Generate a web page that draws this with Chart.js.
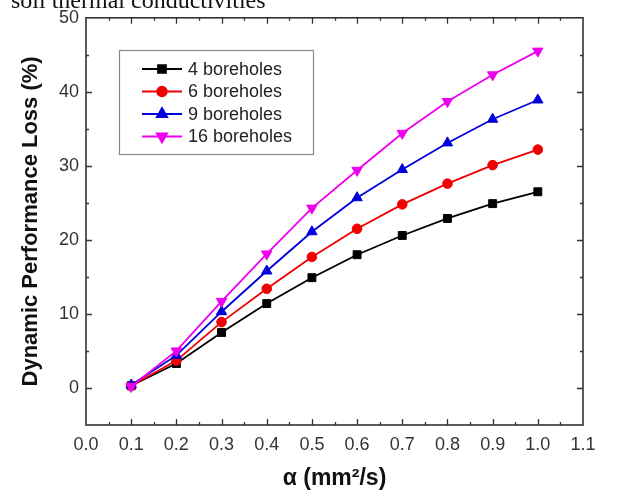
<!DOCTYPE html>
<html>
<head>
<meta charset="utf-8">
<script src="https://cdn.jsdelivr.net/npm/chart.js@4/dist/chart.umd.min.js"></script>
<style>
  html, body { margin: 0; padding: 0; background: #fff; overflow: hidden; }
  #wrap { position: relative; width: 618px; height: 492px; }
  #cap { position: absolute; left: 11px; top: -12px; font: 24px/24px "Liberation Serif", "DejaVu Serif", serif; color: #111; white-space: nowrap; }
  canvas { position: absolute; left: 0; top: 0; }
</style>
</head>
<body>
<div id="wrap">
  <canvas id="c" width="618" height="492"></canvas>
  <div id="cap">soil thermal conductivities</div>
</div>
<script>
// ---- data ----
const alpha = [0.1, 0.2, 0.3, 0.4, 0.5, 0.6, 0.7, 0.8, 0.9, 1.0];
const loss4  = [0.3, 3.3, 7.5, 11.4, 14.9, 18.0, 20.6, 22.9, 24.9, 26.5];
const loss6  = [0.3, 3.7, 8.9, 13.4, 17.7, 21.5, 24.8, 27.6, 30.1, 32.2];
const loss9  = [0.4, 4.4, 10.3, 15.8, 21.1, 25.7, 29.5, 33.1, 36.3, 38.9];
const loss16 = [0.2, 5.0, 11.7, 18.1, 24.3, 29.4, 34.4, 38.7, 42.3, 45.5];
const seriesLabels = ['4 boreholes', '6 boreholes', '9 boreholes', '16 boreholes'];
const yTickValues = [0, 10, 20, 30, 40, 50];
const xTitle = 'α (mm²/s)';
const yTitle = 'Dynamic Performance Loss (%)';

const pts = (ys) => alpha.map((x, i) => ({ x: x, y: ys[i] }));

function ds(label, ys, color, style, radius, rotation, order) {
  return {
    label: label, data: pts(ys), borderColor: color, backgroundColor: color,
    borderWidth: 1.8, pointStyle: style, pointRadius: radius, pointHoverRadius: radius,
    pointRotation: rotation, pointBorderWidth: 1, pointBorderColor: color,
    pointBackgroundColor: color, tension: 0, fill: false, order: order
  };
}

// frame + inside ticks on all four sides
const framePlugin = {
  id: 'frame',
  afterDatasetsDraw(chart) {
    const { ctx, chartArea: a, scales } = chart;
    const xs = scales.x, ys = scales.y;
    ctx.save();
    ctx.strokeStyle = '#333';
    ctx.lineWidth = 1.6;
    ctx.strokeRect(a.left, a.top, a.right - a.left, a.bottom - a.top);
    ctx.lineWidth = 1.3;
    ctx.beginPath();
    for (let k = 0; k <= 22; k++) {
      const v = k * 0.05;
      const px = Math.round(xs.getPixelForValue(v)) + 0.5;
      const len = (k % 2 === 0) ? 6 : 3;
      if (k === 0 || k === 22) continue;
      ctx.moveTo(px, a.bottom); ctx.lineTo(px, a.bottom - len);
      ctx.moveTo(px, a.top); ctx.lineTo(px, a.top + len);
    }
    for (let k = 0; k <= 10; k++) {
      const v = k * 5;
      const py = Math.round(ys.getPixelForValue(v)) + 0.5;
      const len = (k % 2 === 0) ? 6 : 3;
      if (v >= 50) continue;
      ctx.moveTo(a.left, py); ctx.lineTo(a.left + len, py);
      ctx.moveTo(a.right, py); ctx.lineTo(a.right - len, py);
    }
    ctx.stroke();
    ctx.restore();
  }
};

// legend box inside the plot, drawn from dataset styles
const legendPlugin = {
  id: 'insideLegend',
  afterDraw(chart) {
    const { ctx } = chart;
    const bx = 119, by = 50, bw = 194, bh = 104;
    ctx.save();
    ctx.fillStyle = '#fff';
    ctx.fillRect(bx, by, bw, bh);
    ctx.strokeStyle = '#8a8a8a';
    ctx.lineWidth = 1.2;
    ctx.strokeRect(bx + 0.5, by + 0.5, bw, bh);
    ctx.font = '18px "Liberation Sans", Arial, sans-serif';
    ctx.textBaseline = 'middle';
    const rows = [69, 91.5, 114, 136.5];
    chart.data.datasets.forEach((d, i) => {
      const y = rows[i];
      ctx.strokeStyle = d.borderColor;
      ctx.lineWidth = d.borderWidth;
      ctx.beginPath(); ctx.moveTo(142, y); ctx.lineTo(182, y); ctx.stroke();
      ctx.fillStyle = d.pointBackgroundColor;
      Chart.helpers.drawPoint(ctx, {
        pointStyle: d.pointStyle, radius: d.pointRadius, rotation: d.pointRotation, borderWidth: 1
      }, 162, y);
      ctx.fillStyle = '#222';
      ctx.fillText(d.label, 188, y + 1);
    });
    ctx.restore();
  }
};

new Chart(document.getElementById('c'), {
  type: 'line',
  data: {
    datasets: [
      ds(seriesLabels[0], loss4,  '#000000', 'rect', 5.6, 0, 4),
      ds(seriesLabels[1], loss6,  '#ee0000', 'circle', 4.8, 0, 3),
      ds(seriesLabels[2], loss9,  '#0000dd', 'triangle', 6, 0, 2),
      ds(seriesLabels[3], loss16, '#ee00ee', 'triangle', 6, 180, 1)
    ]
  },
  options: {
    responsive: false,
    animation: false,
    events: [],
    layout: { padding: { left: 0, top: 16, right: 35, bottom: 0 } },
    plugins: { legend: { display: false }, tooltip: { enabled: false }, title: { display: false } },
    scales: {
      x: {
        type: 'linear', min: 0, max: 1.1,
        grid: { display: false, drawTicks: false },
        border: { display: false },
        ticks: {
          stepSize: 0.1, padding: 9, color: '#333',
          font: { family: '"Liberation Sans", Arial, sans-serif', size: 18 },
          callback: (v) => Number(v).toFixed(1), maxRotation: 0, autoSkip: false
        },
        title: {
          display: true, text: xTitle, color: '#111',
          font: { family: '"Liberation Sans", Arial, sans-serif', size: 23, weight: 'bold' },
          padding: { top: 4, bottom: 0 }
        },
        afterFit(s) { s.height = 67; }
      },
      y: {
        type: 'linear', min: -5, max: 50,
        grid: { display: false, drawTicks: false },
        border: { display: false },
        afterBuildTicks(s) { s.ticks = yTickValues.map(v => ({ value: v })); },
        ticks: {
          padding: 7, color: '#333',
          font: { family: '"Liberation Sans", Arial, sans-serif', size: 18 }
        },
        title: {
          display: true, text: yTitle, color: '#111',
          font: { family: '"Liberation Sans", Arial, sans-serif', size: 22, weight: 'bold' },
          padding: { top: 18, bottom: 0 }
        },
        afterFit(s) { s.width = 86; }
      }
    }
  },
  plugins: [framePlugin, legendPlugin]
});
</script>
</body>
</html>
